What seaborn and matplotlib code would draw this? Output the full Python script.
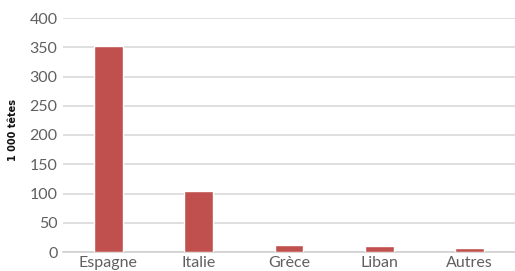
import matplotlib
matplotlib.use("Agg")
import matplotlib.pyplot as plt
import seaborn as sns
import pandas as pd

categories = ["Espagne", "Italie", "Grèce", "Liban", "Autres"]
values = [352, 104, 12, 10, 6]
yticks = [0, 50, 100, 150, 200, 250, 300, 350, 400]
ylabel = "1 000 têtes"

sns.set_theme(style="white")
plt.rcParams['font.family'] = ['Lato', 'DejaVu Sans']

df = pd.DataFrame({"pays": categories, "val": values})

fig = plt.figure(figsize=(5.15, 2.71), dpi=100)
ax = fig.add_axes([63/515, 19/271, 452/515, 234/271])
sns.barplot(data=df, x="pays", y="val", color="#c0504d", width=0.32,
            saturation=1, ax=ax, zorder=3)
ax.set_ylim(0, 400)
ax.set_xlim(-0.5, 4.5)
ax.set_yticks(yticks)
ax.yaxis.grid(True, color="#d9d9d9", linewidth=1.2, zorder=0)
ax.set_axisbelow(True)
for s in ["top", "right", "left"]:
    ax.spines[s].set_visible(False)
ax.spines["bottom"].set_color("#d0d0d0")
ax.spines["bottom"].set_linewidth(1.2)
ax.tick_params(axis="both", length=0, labelsize=11.5, labelcolor="#606060")
ax.tick_params(axis="x", pad=3)
ax.tick_params(axis="y", pad=4)
ax.set_xlabel("")
ax.set_ylabel(ylabel, fontsize=7, fontweight="bold", color="#111111",
              family=["DejaVu Sans"])
ax.yaxis.set_label_coords(-0.1, 0.52)
fig.savefig("out.png", dpi=100)
